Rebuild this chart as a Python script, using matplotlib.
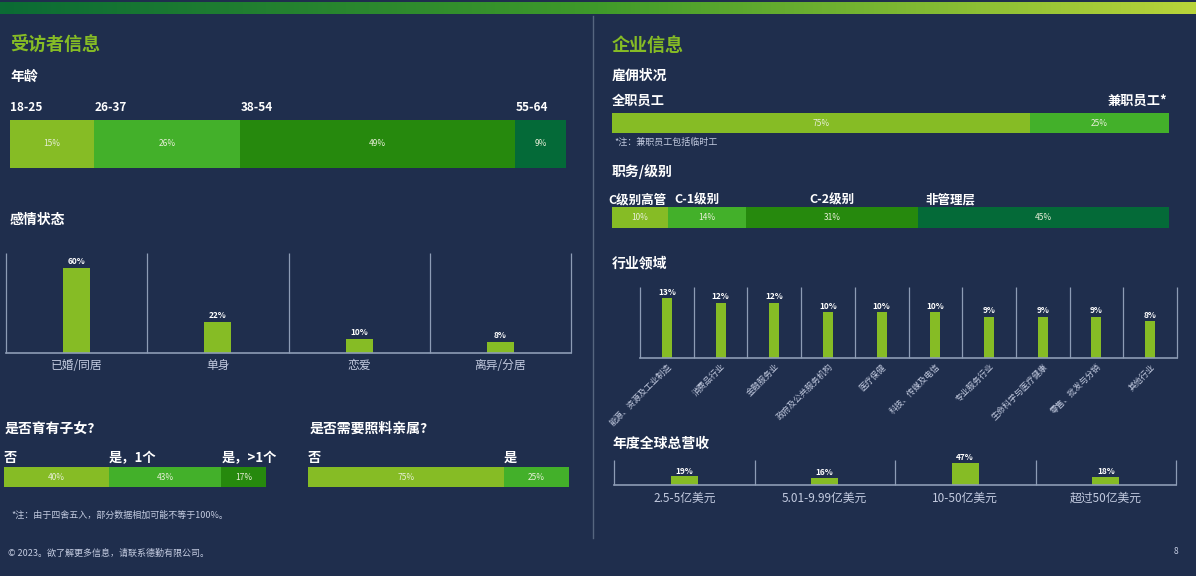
import numpy as np
import matplotlib
matplotlib.use("Agg")
import matplotlib.pyplot as plt

plt.rcParams["font.family"] = ["Noto Sans CJK SC", "DejaVu Sans"]

# ---- data ----
age_labels = ["18-25", "26-37", "38-54", "55-64"]
age_values = [15, 26, 49, 9]

rel_labels = ["已婚/同居", "单身", "恋爱", "离异/分居"]
rel_values = [60, 22, 10, 8]

kids_labels = ["否", "是，1个", "是，>1个"]
kids_values = [40, 43, 17]

care_labels = ["否", "是"]
care_values = [75, 25]

emp_labels = ["全职员工", "兼职员工*"]
emp_values = [75, 25]

job_labels = ["C级别高管", "C-1级别", "C-2级别", "非管理层"]
job_values = [10, 14, 31, 45]

ind_labels = ["能源、资源及工业制造", "消费品行业", "金融服务业", "政府及公共服务机构", "医疗保健",
              "科技、传媒及电信", "专业服务行业", "生命科学与医疗健康", "零售、批发与分销", "其他行业"]
ind_values = [13, 12, 12, 10, 10, 10, 9, 9, 9, 8]

rev_labels = ["2.5-5亿美元", "5.01-9.99亿美元", "10-50亿美元", "超过50亿美元"]
rev_values = [19, 16, 47, 18]

# ---- style ----
BG = "#1f2e4d"
LIME = "#86bc25"
GREENS = ["#86bc25", "#43b02a", "#26890d", "#046a38"]
LINE = "#8d9cb5"
SOFT = "#c3cbe0"
W, H = 1196, 576

fig = plt.figure(figsize=(W / 100, H / 100), dpi=100, facecolor=BG)


def px_axes(x0, y0, x1, y1):
    ax = fig.add_axes([x0 / W, 1 - y1 / H, (x1 - x0) / W, (y1 - y0) / H])
    ax.set_facecolor("none")
    return ax


def txt(x, y, s, **kw):
    kw.setdefault("color", "white")
    kw.setdefault("va", "center")
    fig.text(x / W, 1 - y / H, s, **kw)


# top gradient band
gax = px_axes(0, 2, W, 14)
grad = np.linspace(0, 1, 256).reshape(1, -1)
cmap = matplotlib.colors.LinearSegmentedColormap.from_list("g", ["#0b6b35", "#3f9a2a", "#b8d43a"])
gax.imshow(grad, aspect="auto", cmap=cmap, extent=[0, 1, 0, 1])
gax.axis("off")

# centre divider
lax = px_axes(0, 0, W, H)
lax.set_xlim(0, W)
lax.set_ylim(H, 0)
lax.plot([593, 593], [16, 538], color="#56667f", lw=1)
lax.axis("off")


def stacked(x0, y0, x1, y1, values, labels, anchors, gap, lab_size=9.5, nudge=0):
    ax = px_axes(x0, y0, x1, y1)
    lefts = np.concatenate([[0], np.cumsum(values)[:-1]])
    ax.barh(0, values, left=lefts, height=1, color=GREENS[:len(values)])
    ax.set_xlim(0, sum(values))
    ax.set_ylim(-0.5, 0.5)
    ax.axis("off")
    for l, v in zip(lefts, values):
        ax.text(l + v / 2, 0, f"{v}%", ha="center", va="center", color="#e8efd8", fontsize=6)
    tr = ax.get_xaxis_transform()
    for l, v, lab, a in zip(lefts, values, labels, anchors):
        if a == "start":
            x, ha, dx = l, "left", nudge
        elif a == "end":
            x, ha, dx = l + v, "right", -1
        else:
            x, ha, dx = l + v / 2, "center", 0
        ax.annotate(lab, xy=(x, 1), xycoords=tr, xytext=(dx, gap), textcoords="offset points",
                    ha=ha, va="bottom", color="white", fontsize=lab_size, fontweight="bold")
    return ax


def column_chart(x0, y0, x1, y1, values, labels, ymax, width, rot=0, lab_pad=3, lab_size=8.5):
    ax = px_axes(x0, y0, x1, y1)
    n = len(values)
    xs = np.arange(n)
    ax.bar(xs, values, width=width, color=LIME)
    ax.set_xlim(-0.5, n - 0.5)
    ax.set_ylim(0, ymax)
    ax.vlines(np.arange(n + 1) - 0.5, 0, ymax, color=LINE, lw=0.9, clip_on=False)
    ax.axhline(0, color=LINE, lw=1.2, clip_on=False)
    for x, v in zip(xs, values):
        ax.text(x, v + ymax * 0.02, f"{v}%", ha="center", va="bottom", color="white",
                fontsize=6, fontweight="bold")
    for s in ax.spines.values():
        s.set_visible(False)
    ax.set_yticks([])
    ax.set_xticks(xs)
    if rot:
        ax.set_xticklabels(labels, rotation=rot, ha="right", rotation_mode="anchor",
                           fontsize=lab_size, color=SOFT)
    else:
        ax.set_xticklabels(labels, fontsize=lab_size, color=SOFT)
    ax.tick_params(axis="x", length=0, pad=lab_pad)
    return ax


# ---- left panel ----
txt(10, 44, "受访者信息", color=LIME, fontsize=13, fontweight="bold")
txt(10, 77, "年龄", fontsize=10, fontweight="bold")
stacked(10, 120, 566, 168, age_values, age_labels, ["start"] * 4, 4, lab_size=8.5)

txt(10, 220, "感情状态", fontsize=10, fontweight="bold")
column_chart(6, 253, 571, 353, rel_values, rel_labels, 60 * 100 / 85, 27 / 140, lab_pad=4)

txt(5, 429, "是否育有子女?", fontsize=10, fontweight="bold")
stacked(4, 467, 266, 487, kids_values, kids_labels, ["start"] * 3, 1.5)
txt(310, 429, "是否需要照料亲属?", fontsize=10, fontweight="bold")
stacked(308, 467, 569, 487, care_values, care_labels, ["start"] * 2, 1.5)

txt(11, 515, "*注：由于四舍五入，部分数据相加可能不等于100%。", fontsize=6.5, color=SOFT)
txt(8, 553, "© 2023。欲了解更多信息，请联系德勤有限公司。", fontsize=6.5, color=SOFT)

# ---- right panel ----
txt(612, 45, "企业信息", color=LIME, fontsize=13, fontweight="bold")
txt(612, 76, "雇佣状况", fontsize=10, fontweight="bold")
stacked(612, 113, 1169, 133, emp_values, emp_labels, ["start", "end"], 4)
txt(614, 142, "*注：兼职员工包括临时工", fontsize=6.5, color=SOFT)

txt(612, 172, "职务/级别", fontsize=10, fontweight="bold")
stacked(612, 207, 1169, 228, job_values, job_labels, ["end", "start", "mid", "start"], 0.5,
        lab_size=9, nudge=5)

txt(612, 263, "行业领域", fontsize=10, fontweight="bold")
column_chart(640, 287, 1177, 358, ind_values, ind_labels, 71 / 4.6, 10 / 53.7, rot=45,
             lab_pad=3, lab_size=6)

txt(612, 444, "年度全球总营收", fontsize=10, fontweight="bold")
column_chart(614, 460, 1176, 485, rev_values, rev_labels, 25 / 22 * 47, 27 / 140, lab_pad=5)

txt(1176, 552, "8", fontsize=6, color=SOFT, ha="center")

fig.savefig("out.png", dpi=100, facecolor=BG)
